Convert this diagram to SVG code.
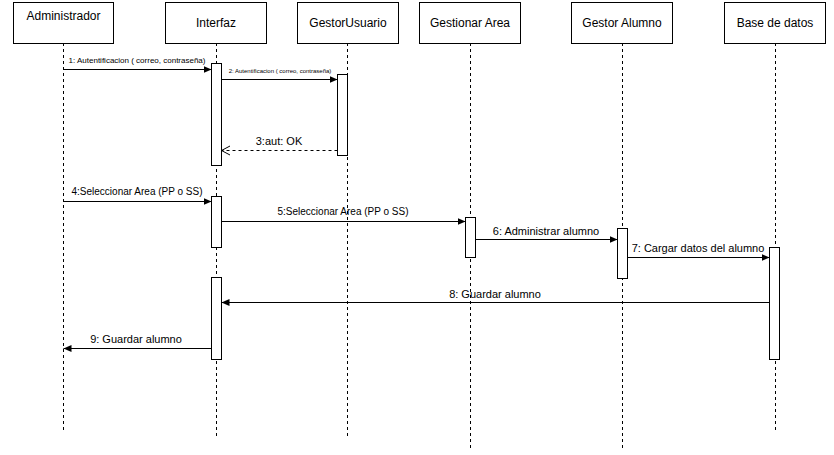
<svg xmlns="http://www.w3.org/2000/svg" width="834" height="455" viewBox="0 0 834 455">
<style>
  text { font-family: "Liberation Sans", Arial, sans-serif; fill: #000; }
  .hdr { fill: #fff; stroke: #000; stroke-width: 1; }
  .hdrt { font-size: 12px; text-anchor: middle; }
  .life { stroke: #000; stroke-width: 1; stroke-dasharray: 3 3; fill: none; }
  .act { fill: #fff; stroke: #000; stroke-width: 1; }
  .msg { stroke: #000; stroke-width: 1; fill: none; marker-end: url(#block); }
  .ret { stroke: #000; stroke-width: 1; fill: none; stroke-dasharray: 3 3; marker-end: url(#open); }
  .lbl { text-anchor: middle; }
</style>
<defs>
  <marker id="block" markerUnits="userSpaceOnUse" markerWidth="9" markerHeight="8" refX="8" refY="3.5" orient="auto">
    <path d="M0,0 L8,3.5 L0,7 z" fill="#000"/>
  </marker>
  <marker id="open" markerUnits="userSpaceOnUse" markerWidth="10" markerHeight="11" refX="8.5" refY="5" orient="auto">
    <path d="M0,0.5 L8.5,5 L0,9.5" fill="none" stroke="#000" stroke-width="1"/>
  </marker>
</defs>
<rect width="834" height="455" fill="#fff"/>

<g id="lifelines">
  <line class="life" x1="63.5" y1="43" x2="63.5" y2="430"/>
  <line class="life" x1="216.5" y1="43" x2="216.5" y2="438"/>
  <line class="life" x1="347.5" y1="43" x2="347.5" y2="438"/>
  <line class="life" x1="470.5" y1="43" x2="470.5" y2="449"/>
  <line class="life" x1="622.5" y1="43" x2="622.5" y2="449"/>
  <line class="life" x1="775.5" y1="43" x2="775.5" y2="430"/>
</g>

<g id="administrador">
  <rect class="hdr" x="13.5" y="2.5" width="100" height="41"/>
  <text class="hdrt" x="63.5" y="20">Administrador</text>
</g>
<g id="interfaz">
  <rect class="hdr" x="165.5" y="2.5" width="101" height="41"/>
  <text class="hdrt" x="216" y="27">Interfaz</text>
  <rect class="act" x="211.5" y="63.5" width="10" height="102"/>
  <rect class="act" x="211.5" y="196.5" width="10" height="51"/>
  <rect class="act" x="211.5" y="277.5" width="10" height="82"/>
</g>
<g id="gestorusuario">
  <rect class="hdr" x="297.5" y="2.5" width="101" height="41"/>
  <text class="hdrt" x="348" y="27">GestorUsuario</text>
  <rect class="act" x="337.5" y="74.5" width="10" height="81"/>
</g>
<g id="gestionararea">
  <rect class="hdr" x="419.5" y="2.5" width="101" height="41"/>
  <text class="hdrt" x="470" y="27">Gestionar Area</text>
  <rect class="act" x="465.5" y="217.5" width="10" height="40"/>
</g>
<g id="gestoralumno">
  <rect class="hdr" x="571.5" y="2.5" width="101" height="41"/>
  <text class="hdrt" x="622" y="27">Gestor Alumno</text>
  <rect class="act" x="617.5" y="228.5" width="10" height="50"/>
</g>
<g id="basededatos">
  <rect class="hdr" x="724.5" y="2.5" width="101" height="41"/>
  <text class="hdrt" x="775" y="27">Base de datos</text>
  <rect class="act" x="769.5" y="247.5" width="10" height="112"/>
</g>

<g id="connectors">
  <line class="msg" x1="63.5" y1="69.5" x2="211.5" y2="69.5"/>
  <text class="lbl" x="137" y="63" font-size="8">1: Autentificacion ( correo, contraseña)</text>

  <line class="msg" x1="221.5" y1="79.5" x2="337.5" y2="79.5"/>
  <text class="lbl" x="280" y="73" font-size="6">2: Autentificacion ( correo, contraseña)</text>

  <line class="ret" x1="337.5" y1="150.5" x2="221.5" y2="150.5"/>
  <text class="lbl" x="279" y="145" font-size="11">3:aut: OK</text>

  <line class="msg" x1="63.5" y1="201.5" x2="211.5" y2="201.5"/>
  <text class="lbl" x="137" y="195" font-size="10">4:Seleccionar Area (PP o SS)</text>

  <line class="msg" x1="221.5" y1="221.5" x2="465.5" y2="221.5"/>
  <text class="lbl" x="343" y="215" font-size="10">5:Seleccionar Area (PP o SS)</text>

  <line class="msg" x1="475.5" y1="239.5" x2="617.5" y2="239.5"/>
  <text class="lbl" x="546" y="235" font-size="11">6: Administrar alumno</text>

  <line class="msg" x1="627.5" y1="257.5" x2="769.5" y2="257.5"/>
  <text class="lbl" x="698" y="252" font-size="11">7: Cargar datos del alumno</text>

  <line class="msg" x1="769.5" y1="302.5" x2="221.5" y2="302.5"/>
  <text class="lbl" x="495" y="298" font-size="11">8: Guardar alumno</text>

  <line class="msg" x1="211.5" y1="348.5" x2="63.5" y2="348.5"/>
  <text class="lbl" x="136" y="343" font-size="11">9: Guardar alumno</text>
</g>
</svg>
